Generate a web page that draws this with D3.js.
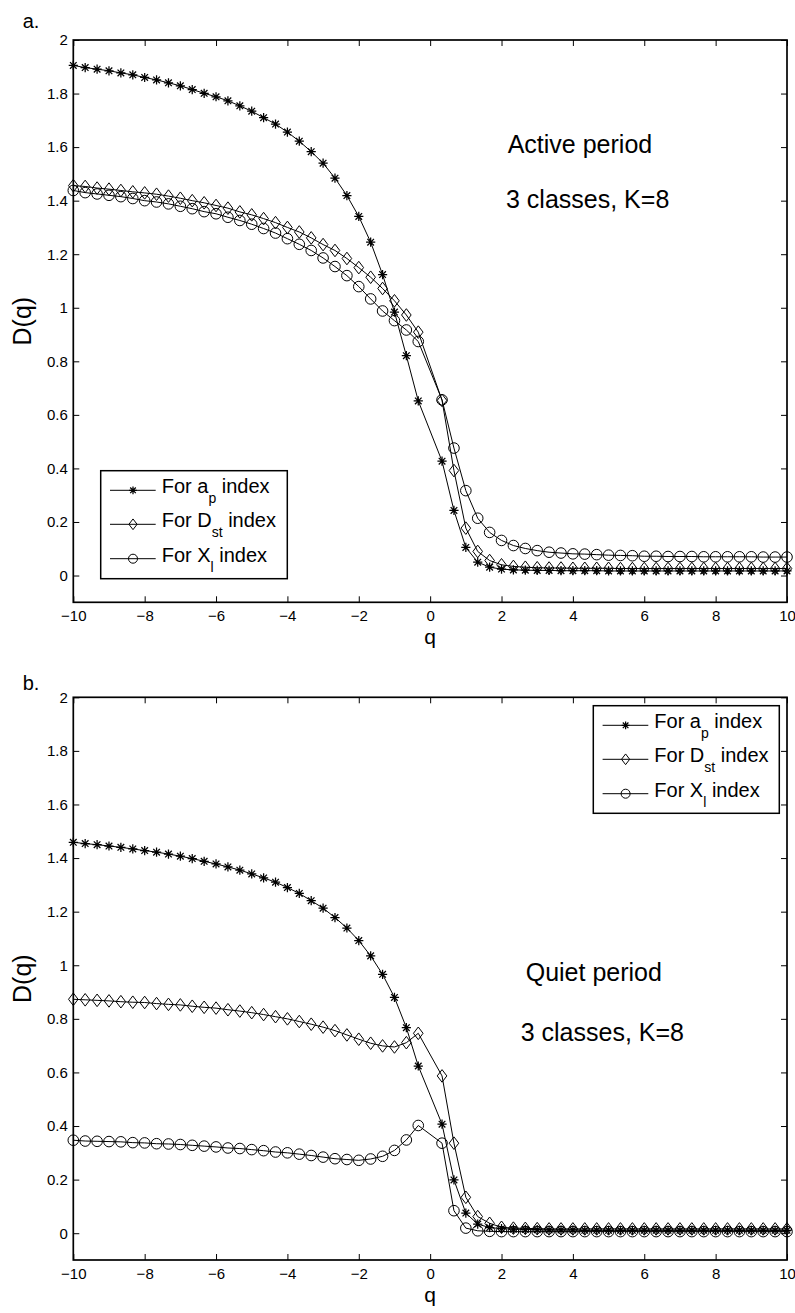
<!DOCTYPE html>
<html>
<head>
<meta charset="utf-8">
<script src="https://cdn.jsdelivr.net/npm/d3@7"></script>
<style>
  html, body { margin: 0; padding: 0; background: #fff; }
  svg { display: block; font-family: "Liberation Sans", Arial, Helvetica, sans-serif; }
</style>
</head>
<body>
<svg id="chart" width="795" height="1313"></svg>
<script>
// ---------------- DATA ----------------
const qValues = [
  -10, -9.667, -9.333, -9, -8.667, -8.333, -8, -7.667, -7.333, -7,
  -6.667, -6.333, -6, -5.667, -5.333, -5, -4.667, -4.333, -4, -3.667,
  -3.333, -3, -2.667, -2.333, -2, -1.667, -1.333, -1, -0.667, -0.333,
  0.333, 0.667, 1, 1.333, 1.667, 2, 2.333, 2.667, 3, 3.333,
  3.667, 4, 4.333, 4.667, 5, 5.333, 5.667, 6, 6.333, 6.667,
  7, 7.333, 7.667, 8, 8.333, 8.667, 9, 9.333, 9.667, 10
];

// Panel a: active period
const activeAp = [
  1.905, 1.897, 1.891, 1.885, 1.877, 1.870, 1.860, 1.851, 1.840, 1.829,
  1.815, 1.801, 1.788, 1.773, 1.754, 1.734, 1.710, 1.686, 1.656, 1.622,
  1.583, 1.540, 1.484, 1.419, 1.341, 1.245, 1.124, 0.984, 0.821, 0.652,
  0.427, 0.243, 0.105, 0.050, 0.031, 0.024, 0.021, 0.020, 0.019, 0.019,
  0.018, 0.018, 0.018, 0.018, 0.017, 0.017, 0.017, 0.017, 0.017, 0.017,
  0.017, 0.017, 0.017, 0.017, 0.017, 0.017, 0.017, 0.017, 0.017, 0.017
];
const activeDst = [
  1.456, 1.453, 1.447, 1.443, 1.438, 1.433, 1.429, 1.424, 1.417, 1.409,
  1.400, 1.392, 1.382, 1.372, 1.358, 1.347, 1.333, 1.318, 1.300, 1.283,
  1.261, 1.236, 1.214, 1.184, 1.150, 1.114, 1.072, 1.026, 0.973, 0.909,
  0.654, 0.392, 0.177, 0.090, 0.056, 0.040, 0.034, 0.031, 0.029, 0.028,
  0.028, 0.027, 0.027, 0.027, 0.027, 0.026, 0.026, 0.026, 0.026, 0.026,
  0.026, 0.026, 0.026, 0.026, 0.026, 0.026, 0.026, 0.026, 0.026, 0.026
];
const activeXl = [
  1.438, 1.430, 1.425, 1.420, 1.415, 1.408, 1.400, 1.395, 1.388, 1.379,
  1.370, 1.359, 1.351, 1.338, 1.326, 1.312, 1.296, 1.279, 1.258, 1.237,
  1.214, 1.186, 1.154, 1.120, 1.079, 1.033, 0.988, 0.952, 0.917, 0.874,
  0.656, 0.476, 0.317, 0.214, 0.161, 0.131, 0.112, 0.101, 0.093, 0.087,
  0.084, 0.081, 0.080, 0.078, 0.076, 0.075, 0.074, 0.072, 0.072, 0.071,
  0.071, 0.071, 0.070, 0.070, 0.070, 0.070, 0.070, 0.069, 0.069, 0.069
];

// Panel b: quiet period
const quietAp = [
  1.459, 1.454, 1.450, 1.445, 1.440, 1.434, 1.428, 1.422, 1.415, 1.407,
  1.398, 1.388, 1.378, 1.367, 1.355, 1.341, 1.326, 1.310, 1.290, 1.268,
  1.241, 1.213, 1.178, 1.139, 1.092, 1.035, 0.966, 0.880, 0.767, 0.624,
  0.407, 0.199, 0.075, 0.034, 0.021, 0.017, 0.015, 0.014, 0.013, 0.012,
  0.012, 0.012, 0.011, 0.011, 0.011, 0.011, 0.011, 0.011, 0.011, 0.011,
  0.011, 0.011, 0.011, 0.011, 0.011, 0.011, 0.011, 0.011, 0.011, 0.011
];
const quietDst = [
  0.873, 0.871, 0.869, 0.867, 0.864, 0.862, 0.861, 0.857, 0.854, 0.852,
  0.847, 0.843, 0.840, 0.834, 0.829, 0.823, 0.816, 0.808, 0.800, 0.790,
  0.780, 0.769, 0.756, 0.740, 0.724, 0.709, 0.699, 0.695, 0.711, 0.746,
  0.587, 0.336, 0.134, 0.062, 0.037, 0.022, 0.019, 0.018, 0.017, 0.016,
  0.016, 0.016, 0.016, 0.016, 0.016, 0.016, 0.016, 0.016, 0.016, 0.016,
  0.016, 0.016, 0.016, 0.016, 0.016, 0.016, 0.016, 0.016, 0.016, 0.016
];
const quietXl = [
  0.347, 0.344, 0.343, 0.342, 0.341, 0.338, 0.337, 0.334, 0.333, 0.331,
  0.328, 0.325, 0.322, 0.318, 0.316, 0.312, 0.308, 0.303, 0.300, 0.295,
  0.290, 0.284, 0.278, 0.275, 0.272, 0.277, 0.287, 0.309, 0.348, 0.402,
  0.336, 0.084, 0.019, 0.009, 0.007, 0.006, 0.006, 0.006, 0.006, 0.006,
  0.006, 0.006, 0.006, 0.006, 0.006, 0.006, 0.006, 0.006, 0.006, 0.006,
  0.006, 0.006, 0.006, 0.006, 0.006, 0.006, 0.006, 0.006, 0.006, 0.006
];

const xTicks = [-10, -8, -6, -4, -2, 0, 2, 4, 6, 8, 10];
const yTicks = [0, 0.2, 0.4, 0.6, 0.8, 1, 1.2, 1.4, 1.6, 1.8, 2];
const seriesNames = ["a", "D", "X"];
const seriesMarkers = ["star", "diamond", "circle"];
const legendMain = ["For a", "For D", "For X"];
const legendSub = ["p", "st", "l"];
const panelLetters = ["a.", "b."];
const panelNotes = [["Active period", "3 classes, K=8"], ["Quiet period", "3 classes, K=8"]];
const xLabel = "q";
const yLabel = "D(q)";

// ---------------- LAYOUT ----------------
const svg = d3.select("#chart");
const left = 73.3, right = 787;
const panels = [
  { top: 40, bottom: 602.3, series: [activeAp, activeDst, activeXl],
    legend: { x: 100.7, y: 470.7, w: 186.6, h: 108 },
    notes: [{ x: 507.7, y: 153 }, { x: 506, y: 208 }], letterY: 28 },
  { top: 697.3, bottom: 1260, series: [quietAp, quietDst, quietXl],
    legend: { x: 593.3, y: 705.7, w: 186, h: 107.6 },
    notes: [{ x: 525.7, y: 981 }, { x: 520.7, y: 1041 }], letterY: 690 }
];

const x = d3.scaleLinear().domain([-10, 10]).range([left, right]);

function drawMarker(g, type, cx, cy, s) {
  if (type === "star") {
    const r = 4.6 * s, d = r * 0.72;
    g.append("path")
      .attr("d", `M${cx - r},${cy}L${cx + r},${cy}M${cx},${cy - r}L${cx},${cy + r}` +
                 `M${cx - d},${cy - d}L${cx + d},${cy + d}M${cx - d},${cy + d}L${cx + d},${cy - d}`)
      .attr("stroke", "#000").attr("stroke-width", 1.25).attr("fill", "none");
  } else if (type === "diamond") {
    const w = 4.8 * s, h = 6.3 * s;
    g.append("path")
      .attr("d", `M${cx},${cy - h}L${cx + w},${cy}L${cx},${cy + h}L${cx - w},${cy}Z`)
      .attr("stroke", "#000").attr("stroke-width", 1).attr("fill", "none");
  } else {
    g.append("circle").attr("cx", cx).attr("cy", cy).attr("r", 5.3 * s)
      .attr("stroke", "#000").attr("stroke-width", 1).attr("fill", "none");
  }
}

panels.forEach((p, pi) => {
  const y = d3.scaleLinear().domain([-0.1, 2]).range([p.bottom, p.top]);
  const g = svg.append("g");

  // panel letter
  g.append("text").attr("x", 22.7).attr("y", p.letterY)
    .attr("font-size", 20).text(panelLetters[pi]);

  // axes
  const fmtX = d3.format("");
  const fmtY = d => String(+d.toFixed(1));
  const axB = g.append("g").attr("transform", `translate(0,${p.bottom})`)
    .call(d3.axisBottom(x).tickValues(xTicks).tickSizeInner(-6).tickSizeOuter(0)
      .tickPadding(8.3).tickFormat(fmtX));
  const axT = g.append("g").attr("transform", `translate(0,${p.top})`)
    .call(d3.axisTop(x).tickValues(xTicks).tickSizeInner(-6).tickSizeOuter(0).tickFormat(""));
  const axL = g.append("g").attr("transform", `translate(${left},0)`)
    .call(d3.axisLeft(y).tickValues(yTicks).tickSizeInner(-6).tickSizeOuter(0)
      .tickPadding(5.5).tickFormat(fmtY));
  const axR = g.append("g").attr("transform", `translate(${right},0)`)
    .call(d3.axisRight(y).tickValues(yTicks).tickSizeInner(-6).tickSizeOuter(0).tickFormat(""));
  [axB, axT, axL, axR].forEach(a => {
    a.select(".domain").remove();
    a.selectAll(".tick line").attr("stroke", "#000").attr("stroke-width", 1);
    a.selectAll("text").attr("font-size", 15).attr("fill", "#000")
      .attr("font-family", "'Liberation Sans', Arial, sans-serif");
  });

  // box
  g.append("rect").attr("x", left).attr("y", p.top)
    .attr("width", right - left).attr("height", p.bottom - p.top)
    .attr("fill", "none").attr("stroke", "#000").attr("stroke-width", 1.7);

  // axis labels
  g.append("text").attr("x", x(0)).attr("y", p.bottom + 42)
    .attr("text-anchor", "middle").attr("font-size", 21).text(xLabel);
  g.append("text")
    .attr("transform", `translate(31,${(p.top + p.bottom) / 2}) rotate(-90)`)
    .attr("text-anchor", "middle").attr("font-size", 25).text(yLabel);

  // series
  const line = d3.line().x((d, i) => x(qValues[i])).y(d => y(d));
  p.series.forEach((vals, si) => {
    const sg = g.append("g");
    sg.append("path").attr("d", line(vals))
      .attr("fill", "none").attr("stroke", "#000").attr("stroke-width", 1);
    vals.forEach((v, i) => drawMarker(sg, seriesMarkers[si], x(qValues[i]), y(v), 1));
  });

  // notes
  p.notes.forEach((n, ni) => {
    g.append("text").attr("x", n.x).attr("y", n.y).attr("font-size", 25)
      .text(panelNotes[pi][ni]);
  });

  // legend
  const L = p.legend;
  const lg = g.append("g").attr("transform", `translate(${L.x},${L.y})`);
  lg.append("rect").attr("width", L.w).attr("height", L.h)
    .attr("fill", "#fff").attr("stroke", "#000").attr("stroke-width", 1.5);
  const rows = [19.6, 53.6, 88];
  seriesNames.forEach((nm, si) => {
    const ry = rows[si];
    lg.append("line").attr("x1", 9.3).attr("x2", 55).attr("y1", ry).attr("y2", ry)
      .attr("stroke", "#000").attr("stroke-width", 1);
    drawMarker(lg, seriesMarkers[si], 32.3, ry, 0.85);
    const t = lg.append("text").attr("x", 61).attr("y", ry + 3).attr("font-size", 20);
    t.append("tspan").text(legendMain[si]);
    t.append("tspan").attr("font-size", 14).attr("dy", 10).text(legendSub[si]);
    t.append("tspan").attr("dy", -10).text(" index");
  });
});
</script>
</body>
</html>
